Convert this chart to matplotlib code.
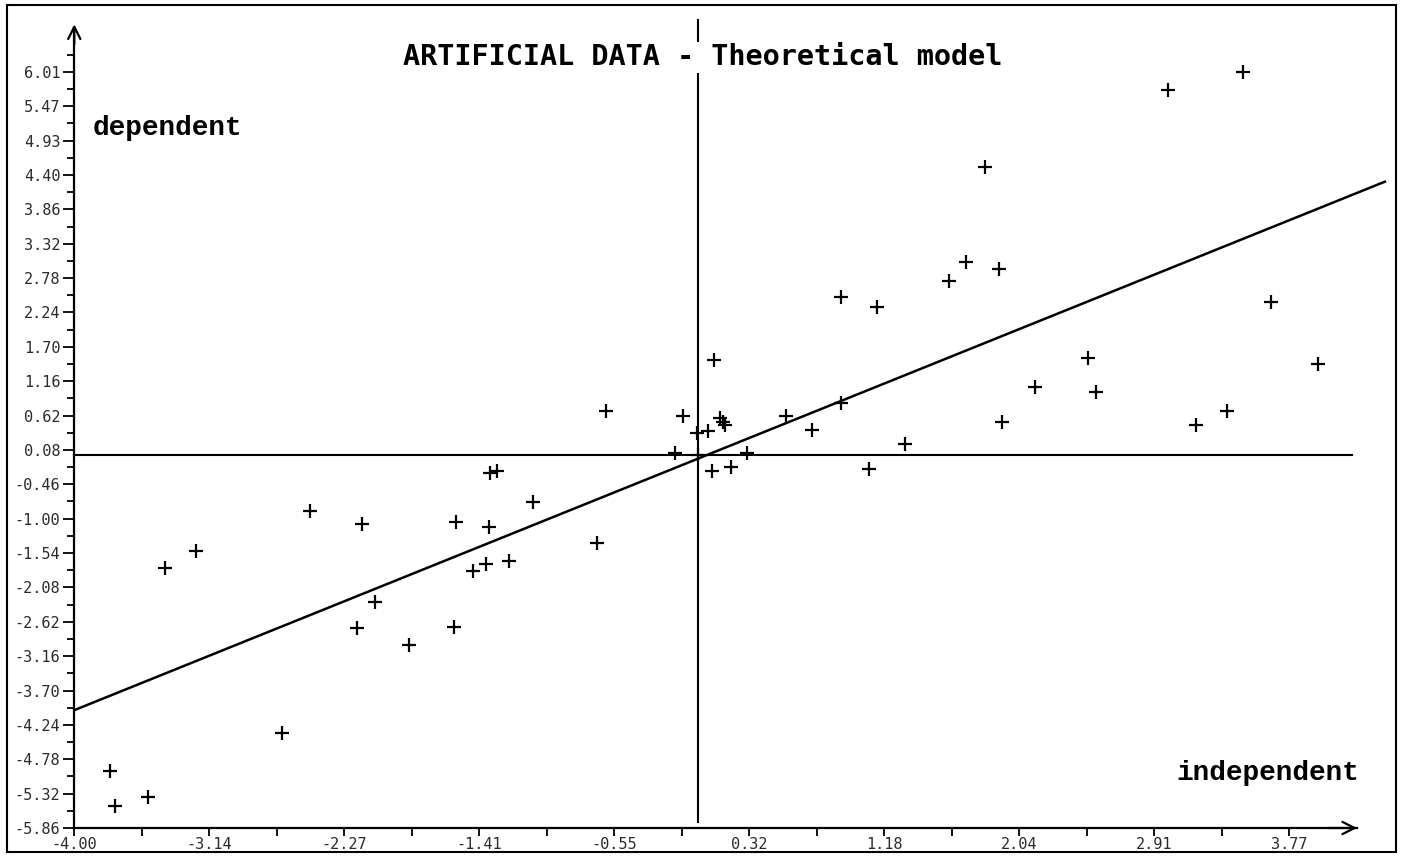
import numpy as np
from matplotlib import pyplot as plt
from matplotlib.patches import Rectangle

# axis labels as printed on the chart
x_labels = ["-4.00", "-3.14", "-2.27", "-1.41", "-0.55", "0.32", "1.18", "2.04", "2.91", "3.77"]
y_labels = ["-5.86", "-5.32", "-4.78", "-4.24", "-3.70", "-3.16", "-2.62", "-2.08", "-1.54", "-1.00",
            "-0.46", "0.08", "0.62", "1.16", "1.70", "2.24", "2.78", "3.32", "3.86", "4.40",
            "4.93", "5.47", "6.01"]

x_data = [-3.42, -3.22, -2.49, -2.16, -1.56, -1.35, -1.07, -2.08, -2.19, -1.86,
          -1.57, -1.45, -1.37, -1.22, -2.67, -3.77, -3.74, -3.53, -0.60, -0.11,
          -0.02, 0.05, 0.13, 0.16, 0.15, -0.16, -0.01, 0.30, 0.08, 0.20,
          0.55, 0.72, 0.90, 1.08, -0.66, -1.34, -1.30, 0.09, 0.90, 1.13,
          1.31, 1.59, 1.70, 1.91, 1.82, 1.93, 2.14, 2.48, 2.53, 2.99,
          3.17, 3.37, 3.47, 3.65, 3.95]
y_data = [-1.78, -1.51, -0.89, -1.08, -1.06, -1.14, -0.75, -2.31, -2.72, -2.99,
          -2.71, -1.83, -1.71, -1.67, -4.37, -4.97, -5.51, -5.38, 0.68, 0.61,
          0.34, 0.38, 0.57, 0.47, 0.52, 0.02, -0.01, 0.02, -0.26, -0.20,
          0.61, 0.39, 0.81, -0.22, -1.39, -0.28, -0.25, 1.48, 2.47, 2.32,
          0.17, 2.72, 3.03, 2.91, 4.52, 0.52, 1.07, 1.52, 0.99, 5.73,
          0.46, 0.69, 6.00, 2.40, 1.43]

x_mean = -0.01
y_mean = -0.01
model_slope = 0.99
model_intercept = -0.05

x_min, x_max = -4.00, 3.77
y_min, y_max = -5.86, 6.01

fig = plt.figure(figsize=(14.01, 8.61), dpi=100)
ax = fig.add_axes([0, 0, 1, 1])
ax.set_xlim(-4.475, 4.483)
ax.set_ylim(-6.378, 7.138)

# axes drawn as arrows from the origin corner
for side in ["top", "right"]:
    ax.spines[side].set_visible(False)
ax.spines["left"].set_position(("data", x_min))
ax.spines["bottom"].set_position(("data", y_min))
ax.spines["left"].set_bounds(y_min, 6.70)
ax.spines["bottom"].set_bounds(x_min, 4.20)
ax.spines["left"].set_linewidth(1.6)
ax.spines["bottom"].set_linewidth(1.6)
ax.annotate("", xy=(x_min, 6.80), xytext=(x_min, 6.40),
            arrowprops=dict(arrowstyle="->", lw=1.6, color="black", mutation_scale=22))
ax.annotate("", xy=(4.22, y_min), xytext=(4.00, y_min),
            arrowprops=dict(arrowstyle="->", lw=1.6, color="black", mutation_scale=22))

x_ticks = np.linspace(x_min, x_max, len(x_labels))
y_ticks = np.linspace(y_min, y_max, len(y_labels))
x_step = x_ticks[1] - x_ticks[0]
y_step = y_ticks[1] - y_ticks[0]

ax.set_xticks(x_ticks)
ax.set_xticklabels(x_labels, fontfamily="DejaVu Sans Mono", fontsize=11, color="#2a2a2a")
ax.set_xticks(x_ticks[:-1] + x_step / 2, minor=True)
ax.set_yticks(y_ticks)
ax.set_yticklabels(y_labels, fontfamily="DejaVu Sans Mono", fontsize=11, color="#2a2a2a")
ax.set_yticks(y_ticks + y_step / 2, minor=True)
ax.tick_params(axis="x", which="both", direction="out", length=6, width=1.3, pad=0.5)
ax.tick_params(axis="y", which="major", direction="out", length=8, width=1.3, pad=2)
ax.tick_params(axis="y", which="minor", direction="out", length=5, width=1.3)

# mean lines and theoretical model
ax.plot([x_mean, x_mean], [-5.77, 6.82], color="black", lw=1.5)
ax.plot([x_min, 4.17], [y_mean, y_mean], color="black", lw=1.5)
xs = np.array([x_min, 4.38])
ax.plot(xs, model_slope * xs + model_intercept, color="black", lw=1.8)

ax.plot(x_data, y_data, linestyle="none", marker="+", markersize=10,
        markeredgewidth=1.6, color="black")

ax.text(0.015, 6.24, "ARTIFICIAL DATA - Theoretical model", ha="center", va="center",
        fontfamily="DejaVu Sans Mono", fontweight="bold", fontsize=20.5,
        bbox=dict(facecolor="white", edgecolor="none", pad=1), zorder=5)
ax.text(-3.885, 5.13, "dependent", ha="left", va="center",
        fontfamily="Liberation Mono", fontweight="bold", fontsize=20)
ax.text(4.216, -5.00, "independent", ha="right", va="center",
        fontfamily="Liberation Mono", fontweight="bold", fontsize=20)

fig.patches.append(Rectangle((7 / 1401, 9 / 861), 1389 / 1401, 847 / 861,
                             transform=fig.transFigure, fill=False, lw=1.5, ec="black"))

fig.savefig("out.png", dpi=100)
